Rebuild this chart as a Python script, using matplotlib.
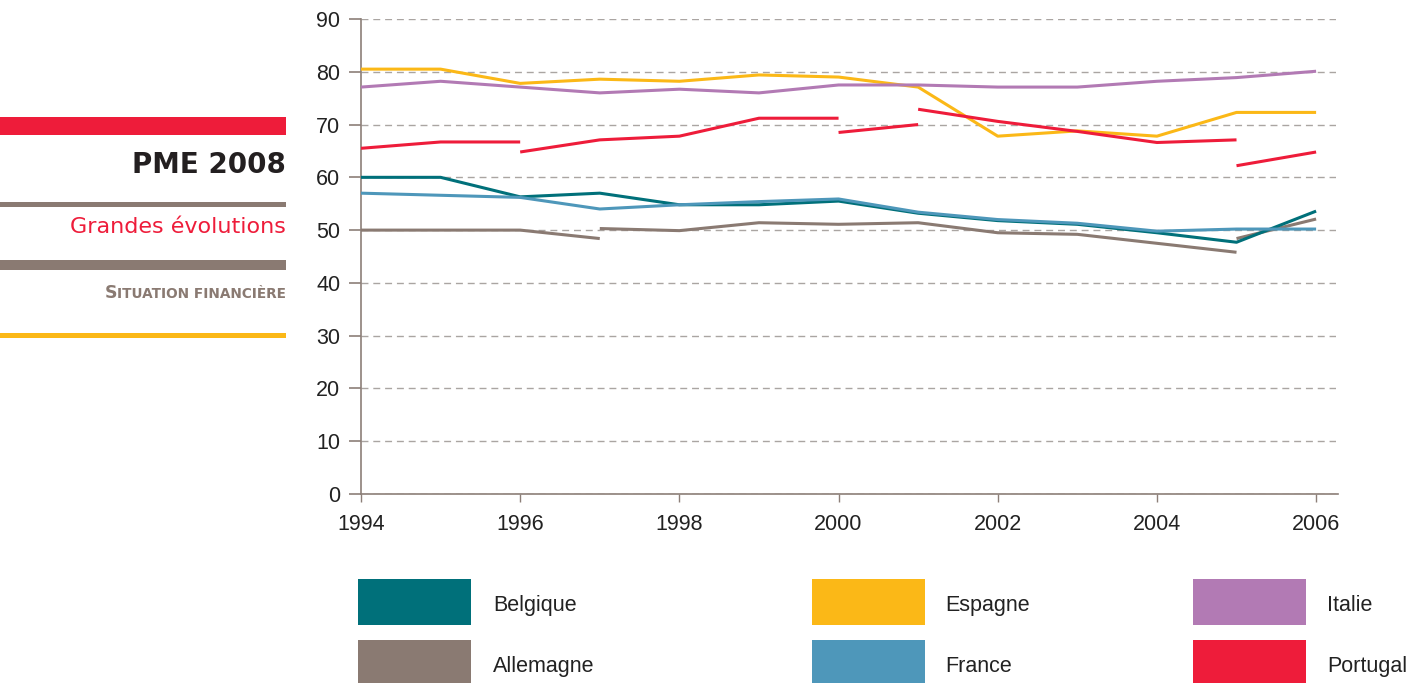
import matplotlib
matplotlib.use("Agg")
import matplotlib.pyplot as plt
from matplotlib.patches import Rectangle

# ---- data: each country is a list of (years, values) segments ----
belgique = [
    ([1994, 1995, 1996, 1997, 1998, 1999, 2000, 2001, 2002, 2003, 2004, 2005, 2006],
     [60.0, 60.0, 56.3, 57.0, 54.8, 54.8, 55.5, 53.2, 51.8, 51.1, 49.5, 47.7, 53.6]),
]
allemagne = [
    ([1994, 1995, 1996, 1997], [50.0, 50.0, 50.0, 48.4]),
    ([1997, 1998, 1999, 2000, 2001, 2002, 2003, 2004, 2005],
     [50.3, 49.9, 51.4, 51.1, 51.4, 49.5, 49.2, 47.5, 45.8]),
    ([2005, 2006], [48.4, 52.1]),
]
france = [
    ([1994, 1995, 1996, 1997, 1998, 1999, 2000, 2001, 2002, 2003, 2004, 2005, 2006],
     [57.0, 56.6, 56.2, 54.0, 54.8, 55.4, 55.9, 53.4, 52.0, 51.3, 49.8, 50.2, 50.2]),
]
espagne = [
    ([1994, 1995, 1996, 1997, 1998, 1999, 2000, 2001, 2002, 2003, 2004, 2005, 2006],
     [80.5, 80.5, 77.8, 78.6, 78.2, 79.4, 79.0, 77.1, 67.8, 68.8, 67.8, 72.3, 72.3]),
]
italie = [
    ([1994, 1995, 1996, 1997, 1998, 1999, 2000, 2001, 2002, 2003, 2004, 2005, 2006],
     [77.1, 78.2, 77.1, 76.0, 76.7, 76.0, 77.5, 77.5, 77.1, 77.1, 78.2, 78.9, 80.1]),
]
portugal = [
    ([1994, 1995, 1996], [65.5, 66.7, 66.7]),
    ([1996, 1997, 1998, 1999, 2000], [64.8, 67.1, 67.8, 71.2, 71.2]),
    ([2000, 2001], [68.5, 70.0]),
    ([2001, 2002, 2003, 2004, 2005], [72.9, 70.6, 68.7, 66.6, 67.1]),
    ([2005, 2006], [62.2, 64.8]),
]

x_ticks = [1994, 1996, 1998, 2000, 2002, 2004, 2006]
y_ticks = [0, 10, 20, 30, 40, 50, 60, 70, 80, 90]

legend_rows = [["Belgique", "Espagne", "Italie"],
               ["Allemagne", "France", "Portugal"]]

colors = {
    "Belgique": "#00707a",
    "Allemagne": "#8a7a72",
    "France": "#4e97ba",
    "Espagne": "#fbb817",
    "Italie": "#b27ab4",
    "Portugal": "#ee1c3a",
}
series = [("Allemagne", allemagne), ("Belgique", belgique), ("France", france),
          ("Espagne", espagne), ("Italie", italie), ("Portugal", portugal)]

W, H = 1416, 683
fig = plt.figure(figsize=(W / 100, H / 100), dpi=100)
plt.rcParams["font.family"] = ["Liberation Sans", "DejaVu Sans"]

def fx(px):
    return px / W

def fy(py):
    return 1 - py / H

axis_col = "#8c7f78"
ax = fig.add_axes([fx(361), fy(494), fx(1336) - fx(361), fy(19) - fy(494)])
ax.set_xlim(1994, 2006.25)
ax.set_ylim(0, 90)

for name, segs in series:
    for xs, ys in segs:
        ax.plot(xs, ys, color=colors[name], lw=2.2, solid_capstyle="butt", zorder=3)

ax.set_yticks(y_ticks)
ax.set_xticks(x_ticks)
ax.yaxis.grid(True, color="#aaa5a2", lw=1.0, ls=(0, (5, 3.5)), zorder=1)
ax.set_axisbelow(True)
for s in ("top", "right"):
    ax.spines[s].set_visible(False)
for s in ("left", "bottom"):
    ax.spines[s].set_color(axis_col)
    ax.spines[s].set_linewidth(1.2)
ax.spines["bottom"].set_bounds(1994, 2006.28)
ax.tick_params(axis="y", length=9, width=1.2, color=axis_col, pad=6,
               labelsize=15.5, labelcolor="#222222")
ax.tick_params(axis="x", length=5.5, width=1.0, color=axis_col, pad=9,
               labelsize=15.5, labelcolor="#222222")

# ---- legend as colour swatches below the plot ----
col_box_x = [358, 812, 1193]
col_text_x = [493, 945, 1327]
row_top = [579, 640]
box_w, box_h = 113, 46
for r, row in enumerate(legend_rows):
    for c, name in enumerate(row):
        fig.patches.append(Rectangle((fx(col_box_x[c]), fy(row_top[r] + box_h)),
                                     box_w / W, box_h / H, transform=fig.transFigure,
                                     facecolor=colors[name], edgecolor="none"))
        fig.text(fx(col_text_x[c]), fy(row_top[r] + box_h / 2 + 9), name,
                 fontsize=15.5, color="#222222", ha="left", va="baseline")

# ---- left header block ----
def bar(y0, y1, col):
    fig.patches.append(Rectangle((0, fy(y1)), fx(286), (y1 - y0) / H,
                                 transform=fig.transFigure, facecolor=col,
                                 edgecolor="none"))

bar(117, 135, "#ee1c3a")
bar(202, 207, "#8a7a72")
bar(260, 270, "#8a7a72")
bar(333, 338, "#fbb817")

fig.text(fx(286), fy(173), "PME 2008", fontsize=20, fontweight="bold",
         family="DejaVu Sans", color="#231f20", ha="right", va="baseline")
fig.text(fx(286), fy(233), "Grandes évolutions", fontsize=16,
         family="DejaVu Sans", color="#ee1c3a", ha="right", va="baseline")

rest = fig.text(fx(286), fy(298), "ITUATION FINANCIÈRE", fontsize=9.8,
                fontweight="bold", family="DejaVu Sans", color="#8a7a72",
                ha="right", va="baseline")
fig.canvas.draw()
bb = rest.get_window_extent()
fig.text(bb.x0 / W, fy(298), "S", fontsize=12.5, fontweight="bold",
         family="DejaVu Sans", color="#8a7a72", ha="right", va="baseline")

fig.savefig("out.png", dpi=100)
